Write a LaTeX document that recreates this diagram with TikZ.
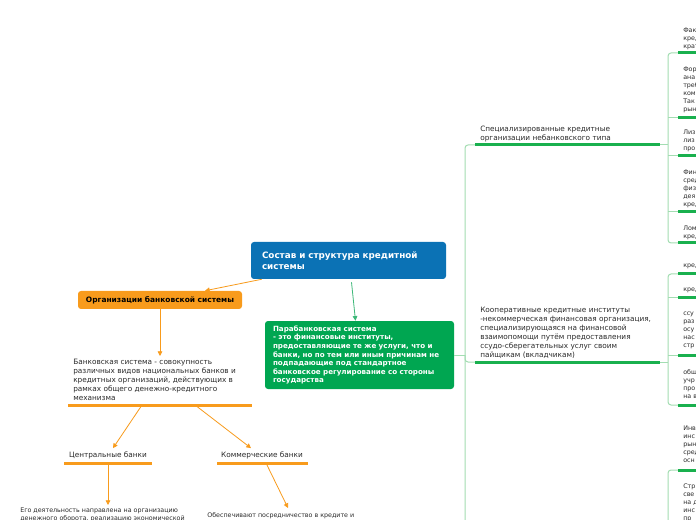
\documentclass[tikz,border=0pt]{standalone}
\usepackage{fontspec}
\setmainfont{DejaVu Sans}
\usetikzlibrary{arrows.meta,calc}
\definecolor{tblue}{HTML}{0B72B5}
\definecolor{torange}{HTML}{F89B1C}
\definecolor{tgreen}{HTML}{00A651}
\definecolor{ugreen}{HTML}{19B04E}
\definecolor{lgreen}{HTML}{A3DDB2}
\definecolor{agreen}{HTML}{3CB878}
\definecolor{tgray}{HTML}{2B2B2B}
\newcommand{\fsreg}{\fontsize{5.5pt}{6.75pt}\selectfont}
\newcommand{\fssmall}{\fontsize{4.75pt}{6pt}\selectfont}
\newcommand{\fstitle}{\fontsize{6.6pt}{8.25pt}\selectfont\bfseries}
\newcommand{\fsbox}{\fontsize{5.35pt}{6.4pt}\selectfont\bfseries}
\newcommand{\fsorg}{\fontsize{5.6pt}{6.4pt}\selectfont\bfseries}
\begin{document}
\begin{tikzpicture}[x=0.75pt,y=-0.75pt,
  txt/.style={inner sep=0pt, align=left, anchor=north west, text=tgray, font=\fsreg},
  smalltxt/.style={txt, font=\fssmall},
  tree/.style={draw=lgreen, line width=0.75pt, rounded corners=2.25pt},
  uline/.style={draw=ugreen, line width=2.25pt},
  oline/.style={draw=torange, line width=2.25pt},
  oarrow/.style={draw=torange, line width=0.6pt, -{Triangle[length=3.5pt,width=3.5pt]}},
  garrow/.style={draw=agreen, line width=0.6pt, -{Triangle[length=3.5pt,width=3.5pt]}}
]
\useasboundingbox (0,0) rectangle (696,520);
\clip (0,0) rectangle (696,520);
\fill[white] (0,0) rectangle (696,520);

% ---- central nodes
\node[fill=tblue, rounded corners=2.25pt, text=white, font=\fstitle, align=left,
      text width=129.75pt, inner xsep=8.25pt, inner ysep=0pt, minimum height=27.75pt]
      (title) at (348.5,260.5) {Состав и структура кредитной\\системы};
\node[fill=torange, rounded corners=2.25pt, text=black, font=\fsorg,
      minimum width=123pt, minimum height=13.5pt, inner sep=0pt]
      (org) at (160,300) {Организации банковской системы};
\node[fill=tgreen, rounded corners=2.25pt, text=white, font=\fsbox, align=left,
      text width=129.75pt, inner xsep=6pt, inner ysep=0pt, minimum height=51pt]
      (para) at (359.5,355) {Парабанковская система\\- это финансовые институты,\\предоставляющие те же услуги, что и\\банки, но по тем или иным причинам не\\подпадающие под стандартное\\банковское регулирование со стороны\\государства};

\draw[oarrow] ($(title.south west)+(11,0)$) -- ($(org.north)+(45,0)$);
\draw[garrow] ($(title.south)+(3,3)$) -- ($(para.north)+(-4,0)$);

% ---- left (orange) branch
\node[txt] (bank) at (73,359) {Банковская система - совокупность\\различных видов национальных банков и\\кредитных организаций, действующих в\\рамках общего денежно-кредитного\\механизма};
\coordinate (bu1) at (68,405);
\coordinate (bu2) at (252,405);
\coordinate (bA) at (142,405);
\coordinate (bB) at (195,405);
\draw[oarrow] (org.south) -- ($(org.south |- bank.north)+(0,-3)$);
\draw[oline] (bu1) -- (bu2);

\node[txt, anchor=center] (cb) at (108,455) {Центральные банки};
\node[txt, anchor=center] (kb) at (262,455) {Коммерческие банки};
\coordinate (cu1) at (64,463);
\coordinate (cu2) at (152,463);
\coordinate (cu) at (108,463);
\coordinate (ku1) at (217,463);
\coordinate (ku2) at (308,463);
\coordinate (kuA) at (266,463);
\draw[oline] (cu1) -- (cu2);
\draw[oline] (ku1) -- (ku2);
\draw[oarrow] (bA) -- ($(cb.north)+(5,-3)$);
\draw[oarrow] (bB) -- ($(kb.north)+(-11,-3)$);

\node[smalltxt] (ego) at (20,508) {Его деятельность направлена на организацию\\денежного оборота, реализацию экономической};
\node[smalltxt] (obes) at (207,512) {Обеспечивают посредничество в кредите и};
\draw[oarrow] (cu) -- ($(cu |- ego.north)+(0,-3)$);
\draw[oarrow] (kuA) -- ($(obes.north west)+(81,-4)$);

% ---- right (green) branch
\node[txt] (spec) at (480,126) {Специализированные кредитные\\организации небанковского типа};
\node[txt] (coop) at (480,307) {Кооперативные кредитные институты\\-некоммерческая финансовая организация,\\специализирующаяся на финансовой\\взаимопомощи путём предоставления\\ссудо-сберегательных услуг своим\\пайщикам (вкладчикам)};
\coordinate (s1w) at (475,145);
\coordinate (s1e) at (660,145);
\coordinate (c1w) at (475,362);
\coordinate (c1e) at (660,362);
\coordinate (m) at (465,355);
\coordinate (mEnd) at (465,530);
\draw[tree] (s1w) -| (mEnd);
\draw[tree] (m) |- (c1w);
\draw[tree, rounded corners=0pt] (para.east) -- (m);
\draw[uline] (s1w) -- (s1e);
\draw[uline] (c1w) -- (c1e);

\coordinate (edge) at (700,0);
% group 1
\node[smalltxt] (a1) at (683,28) {Фак\\кред\\крат};
\node[smalltxt] (a2) at (683,67) {Фор\\ана\\треб\\ком\\Так\\рын};
\node[smalltxt] (a3) at (683,130) {Лиз\\лиз\\про};
\node[smalltxt] (a4) at (683,170) {Фин\\сред\\физ\\дея\\кред};
\node[smalltxt] (a5) at (683,226) {Лом\\кред};
\coordinate (r1a) at (678,53);
\coordinate (r1b) at (678,118);
\coordinate (r1c) at (678,156);
\coordinate (r1d) at (678,212);
\coordinate (r1e) at (678,243);
\coordinate (k1) at (668,145);
\draw[tree] (r1a) -| (k1) |- (r1e);
\draw[tree] (s1e) -- (k1);
\foreach \c in {r1b,r1c,r1d} \draw[tree, rounded corners=0pt] (k1 |- \c) -- (\c);
\foreach \c in {r1a,r1b,r1c,r1d,r1e} \draw[uline] (\c) -- (\c -| edge);

% group 2
\node[smalltxt] (b1) at (683,264) {кред};
\node[smalltxt] (b2) at (683,288) {кред};
\node[smalltxt] (b3) at (683,312) {ссу\\раз\\осу\\нас\\стр};
\node[smalltxt] (b4) at (683,369) {общ\\учр\\про\\на в};
\coordinate (r2a) at (678,274);
\coordinate (r2b) at (678,298);
\coordinate (r2c) at (678,355);
\coordinate (r2d) at (678,405);
\coordinate (k2) at (668,362);
\draw[tree] (r2a) -| (k2) |- (r2d);
\draw[tree] (c1e) -- (k2);
\foreach \c in {r2b,r2c} \draw[tree, rounded corners=0pt] (k2 |- \c) -- (\c);
\foreach \c in {r2a,r2b,r2c,r2d} \draw[uline] (\c) -- (\c -| edge);

% group 3
\node[smalltxt] (d1) at (683,426) {Инв\\инс\\рын\\сред\\осн};
\node[smalltxt] (d2) at (683,484) {Стр\\све\\на д\\инс\\пр};
\coordinate (r3a) at (678,470);
\coordinate (k3end) at (668,530);
\draw[tree] (r3a) -| (k3end);
\draw[uline] (r3a) -- (r3a -| edge);
\end{tikzpicture}
\end{document}
